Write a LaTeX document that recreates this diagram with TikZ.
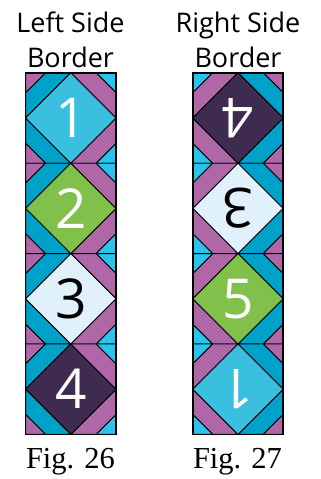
\documentclass[tikz,border=0pt]{standalone}
\usepackage{fontspec}
\setmainfont{Liberation Serif}
\newfontfamily\numfont{Open Sans}
\definecolor{qpurple}{HTML}{B067A8}
\definecolor{qteal}{HTML}{00A1C9}
\definecolor{qlight}{HTML}{29C3EB}
\definecolor{dcyan}{HTML}{3ABFDF}
\definecolor{dgreen}{HTML}{80C04B}
\definecolor{dpale}{HTML}{E0F1FB}
\definecolor{dplum}{HTML}{3E2B4F}
\def\qh{45.2}
\def\qc{20}
% #1 x centre, #2 y centre, #3 mirror (1 or -1), #4 diamond colour, #5 name, #6 label, #7 label colour, #8 rotation
\newcommand\quiltblock[8]{%
  \begin{scope}[shift={(#1,#2)}]
    \begin{scope}[xscale=#3]
      \foreach \sx/\corner/\stripe in {-1/qpurple/qteal, 1/qlight/qpurple}{
        \foreach \sy in {-1,1}{
          \filldraw[patch, fill=\corner] (\sx*\qh,\sy*\qh) -- ({\sx*(\qh-\qc)},\sy*\qh) -- (\sx*\qh,{\sy*(\qh-\qc)}) -- cycle;
          \filldraw[patch, fill=\stripe] ({\sx*(\qh-\qc)},\sy*\qh) -- (0,\sy*\qh) -- (\sx*\qh,0) -- (\sx*\qh,{\sy*(\qh-\qc)}) -- cycle;
        }
      }
      \filldraw[patch, fill=#4] (0,-\qh) -- (\qh,0) -- (0,\qh) -- (-\qh,0) -- cycle;
    \end{scope}
    \node[numlabel, text=#7, rotate=#8] (#5) at (0,0) {#6};
  \end{scope}
}
\tikzset{
  patch/.style={draw=black, line width=0.9pt, line join=round},
  numlabel/.style={inner sep=0pt, font=\numfont\fontsize{55}{55}\selectfont},
  title/.style={anchor=base, inner sep=0pt, font=\numfont\fontsize{27}{27}\selectfont},
  caption/.style={anchor=base, inner sep=0pt, font=\fontsize{30.5}{30.5}\selectfont},
  outline/.style={draw=black, line width=1.6pt}
}
\begin{document}
\begin{tikzpicture}[x=1pt, y=-1pt]
  \useasboundingbox[fill=white] (0,0) rectangle (321,479);
  % titles
  \node[title] (lt1) at (70.5,32) {Left Side};
  \node[title] (lt2) at (70.5,67) {Border};
  \node[title] (rt1) at (238,32) {Right Side};
  \node[title] (rt2) at (238,67) {Border};
  % left column
  \quiltblock{70.8}{118.0}{1}{dcyan}{l1}{1}{white}{0}
  \quiltblock{70.8}{208.4}{1}{dgreen}{l2}{2}{white}{0}
  \quiltblock{70.8}{298.8}{1}{dpale}{l3}{3}{black}{0}
  \quiltblock{70.8}{389.2}{1}{dplum}{l4}{4}{white}{0}
  \draw[outline] (25.6,72.8) rectangle (116.0,434.4);
  % right column
  \quiltblock{238.0}{118.0}{-1}{dplum}{r1}{4}{white}{180}
  \quiltblock{238.0}{208.4}{-1}{dpale}{r2}{3}{black}{180}
  \quiltblock{238.0}{298.8}{-1}{dgreen}{r3}{5}{white}{0}
  \quiltblock{238.0}{389.2}{-1}{dcyan}{r4}{1}{white}{180}
  \draw[outline] (192.8,72.8) rectangle (283.2,434.4);
  % captions
  \node[caption] (c1) at (70.5,468) {Fig. 26};
  \node[caption] (c2) at (237.5,468) {Fig. 27};
\end{tikzpicture}
\end{document}
